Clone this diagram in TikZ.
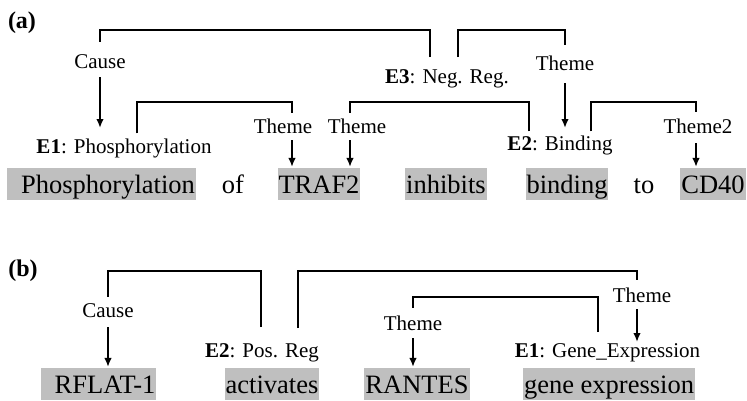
\documentclass[tikz,border=0pt]{standalone}
\usepackage{fontspec}
\setmainfont{Liberation Serif}
\usetikzlibrary{arrows.meta}

\begin{document}
\begin{tikzpicture}[x=1pt,y=-1pt,line width=2.1pt,>={Latex[length=9pt,width=7.5pt]},
      word/.style={anchor=base,inner xsep=1pt,inner ysep=0pt,text height=25pt,
        text depth=7pt,font=\fontsize{26.5}{28}\selectfont},
      box/.style={word,fill=gray!50},
      lbl/.style={anchor=base,inner sep=0pt,font=\fontsize{21}{22}\selectfont},
      tag/.style={inner sep=0pt,font=\fontsize{24}{26}\selectfont\bfseries}]

      \useasboundingbox (0,0) rectangle (747,400);

      % (a)
      \node[tag] (taga) at (22,23) {(a)};

      \node[box] (phos) at (101.5,193) {\hspace{13pt}Phosphorylation};
      \node[word] (of) at (233,193) {of};
      \node[box] (traf) at (319,193) {TRAF2};
      \node[box] (inhib) at (446,193) {inhibits};
      \node[box] (bind) at (567,193) {binding};
      \node[word] (to) at (644,193) {to};
      \node[box] (cd) at (713,193) {CD40};

      \node[lbl] (e1a) at (124,153) {\textbf{E1}: Phosphorylation};
      \node[lbl] (e2a) at (560,150) {\textbf{E2}: Binding};
      \node[lbl] (e3a) at (447,83) {\textbf{E3}: Neg. Reg.};

      \node[lbl] (causea) at (100,68) {Cause};
      \node[lbl] (themea1) at (283,133) {Theme};
      \node[lbl] (themea2) at (357,133) {Theme};
      \node[lbl] (themea3) at (565,70) {Theme};
      \node[lbl] (theme2a) at (698,133) {Theme2};

      \draw (e3a.north -| 430,0) ++(0,-11) |- (causea.north |- 0,30)
        -- (causea.north |- 0,42);
      \draw[->] (causea.south |- 0,77) -- (causea.south |- 0,128);

      \draw (e3a.north -| 458,0) ++(0,-11) |- (themea3.north |- 0,30)
        -- (themea3.north |- 0,45);
      \draw[->] (themea3.south |- 0,83) -- (themea3.south |- 0,128);

      \draw (e1a.north -| 137,0) ++(0,-4) |- (292,102) -- (292,113);
      \draw[->] (themea1.south -| 292,0) ++(0,6) -- (traf.north -| 292,0);

      \draw (e2a.north -| 529,0) ++(0,-3) |- (350,102) -- (350,113);
      \draw[->] (themea2.south -| 350,0) ++(0,6) -- (traf.north -| 350,0);

      \draw (e2a.north -| 591,0) ++(0,-3) |- (696,102) -- (696,112);
      \draw[->] (theme2a.south -| 696,0) ++(0,9) -- (cd.north -| 696,0);

      % (b)
      \node[tag] (tagb) at (23,271) {(b)};

      \node[box] (rflat) at (98.5,393) {\hspace{13pt}RFLAT-1};
      \node[box] (activ) at (272,393) {activates};
      \node[box] (rantes) at (417,393) {RANTES};
      \node[box] (gene) at (609,393) {gene expression};

      \node[lbl] (e2b) at (262,357) {\textbf{E2}: Pos. Reg};
      \node[lbl] (e1b) at (607.5,357) {\textbf{E1}: Gene\_Expression};

      \node[lbl] (causeb) at (108,317) {Cause};
      \node[lbl] (themeb1) at (642,302) {Theme};
      \node[lbl] (themeb2) at (413,330) {Theme};

      \draw (e2b.north -| 261,0) ++(0,-15) |- (causeb.north |- 0,271)
        -- (causeb.north |- 0,297);
      \draw[->] (causeb.south |- 0,327) -- (rflat.north -| causeb.south);

      \draw (e2b.north -| 298,0) ++(0,-14) |- (637,271) -- (637,280);
      \draw[->] (themeb1.south -| 637,0) ++(0,6) -- (e1b.north -| 637,0);

      \draw (e1b.north -| 598,0) ++(0,-10) |- (themeb2.north |- 0,297)
        -- (themeb2.north |- 0,308);
      \draw[->] (themeb2.south |- 0,338) -- (rantes.north -| themeb2.south);
\end{tikzpicture}
\end{document}
